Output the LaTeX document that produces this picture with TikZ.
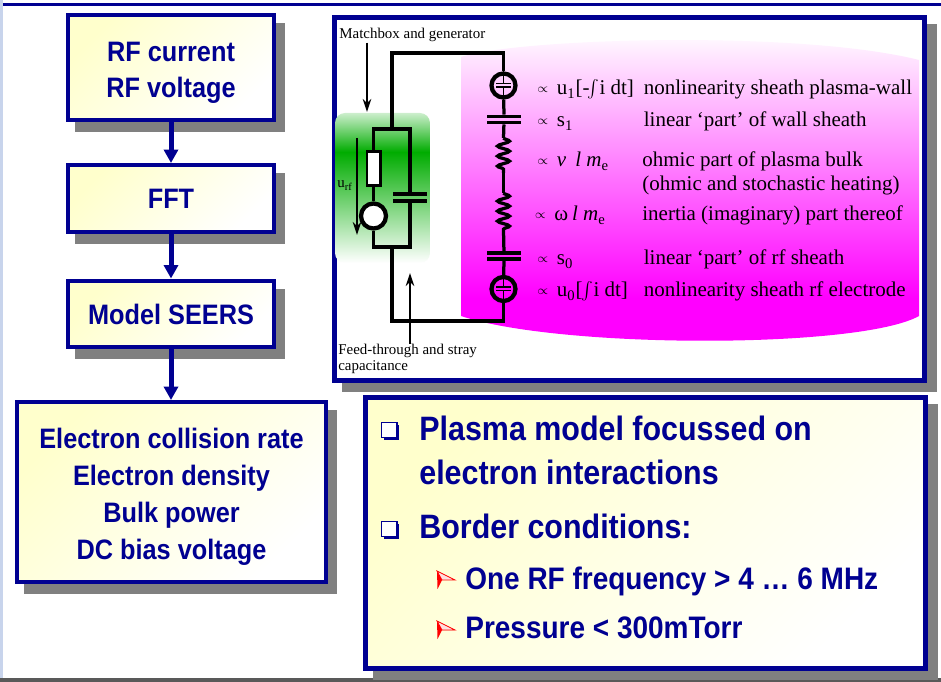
\documentclass[tikz,border=0pt]{standalone}
\usepackage{fontspec}
\setmainfont[FakeStretch=0.9]{Liberation Sans}
\newfontfamily\circuitfont{Liberation Serif}
\usetikzlibrary{arrows.meta, shadows, decorations.pathmorphing}
\definecolor{navyline}  {RGB}{0, 0, 145}
\definecolor{paleyellow}{RGB}{255, 255, 204}
\definecolor{shadowgray}{RGB}{128, 128, 128}
\definecolor{bargray}   {RGB}{89, 89, 89}
\definecolor{stripeblue}{RGB}{200, 212, 236}
\definecolor{plotgreen} {RGB}{0, 172, 0}
\pgfdeclareverticalshading{greenfade}{100bp}{color(0bp)=(white); color(25bp)=(white); color(62bp)=(plotgreen); color(75bp)=(plotgreen!20); color(100bp)=(plotgreen!20)}
\pgfdeclareverticalshading{magentafade}{100bp}{color(0bp)=(magenta); color(33bp)=(magenta); color(75bp)=(white); color(100bp)=(white)}
\newcommand{\propsym}{\raisebox{1.2pt}{\scriptsize$\propto$}\hspace{0.17cm}}
\newcommand{\firstline}{\rule{0pt}{17pt}}
\tikzset{
	flowbox/.style={
		rectangle, align=center, text=navyline,
		font=\fontsize{16}{21}\selectfont\bfseries,
		draw=navyline, line width=0.08cm,
		top color=paleyellow, bottom color=white, shading angle=45,
		drop shadow={shadow xshift=0.18cm, shadow yshift=-0.2cm,
			fill=shadowgray, draw=shadowgray, opacity=1}
	},
	panelbox/.style={
		rectangle, draw=navyline, line width=0.09cm,
		drop shadow={shadow xshift=0.2cm, shadow yshift=-0.18cm,
			fill=shadowgray, draw=shadowgray, opacity=1}
	},
	arrow/.style={
		-{Triangle[length=0.27cm, width=0.28cm]}, line width=0.1cm, color=navyline
	},
	thinarrow/.style={
		-{Stealth[length=0.26cm, width=0.17cm]}, line width=0.03cm, color=black
	},
	wire/.style={line width=0.065cm, color=black, line join=miter},
	coil/.style={wire, decorate,
		decoration={snake, amplitude=0.12cm, segment length=0.2cm}},
	plate/.style={
		rectangle, fill=black, inner sep=0pt,
		minimum width=0.68cm, minimum height=0.065cm
	},
	sheath/.style={
		circle, draw=black, line width=0.085cm, inner sep=0pt, minimum size=0.48cm
	},
	bulletbox/.style={
		rectangle, draw=navyline, fill=white, line width=0.03cm, inner sep=0pt,
		minimum size=0.31cm,
		drop shadow={shadow xshift=0.05cm, shadow yshift=-0.05cm,
			fill=navyline, opacity=1}
	},
	smalllabel/.style={
		inner sep=0pt, font=\circuitfont\fontsize{8.5}{9.2}\selectfont, align=left
	},
	rowtext/.style={
		anchor=base west, inner sep=0pt, font=\circuitfont\fontsize{11.95}{13}\selectfont
	},
	bighead/.style={
		anchor=base west, inner sep=0pt, text=navyline,
		font=\fontsize{19.25}{24}\selectfont\bfseries
	},
	subhead/.style={
		anchor=base west, inner sep=0pt, text=navyline,
		font=\fontsize{17.7}{22}\selectfont\bfseries
	},
	pics/chevron/.style={code={
		\fill[red] (0,0) -- (18,9) -- (5,9) -- (0.5,18) -- cycle;
		\draw[red, line width=0.015cm, fill=red!12] (0,0) -- (18,9) -- (5,9) -- cycle;
	}}
}

\begin{document}
\begin{tikzpicture}[x=0.02cm, y=-0.02cm]
		\useasboundingbox (0,0) rectangle (941,682);
		
		%% ═══════════════════════════════
		%%  SLIDE EDGES
		%% ═══════════════════════════════
		\fill[white] (0,0) rectangle (941,682);
		\fill[stripeblue] (0,0) rectangle (3,682);
		\fill[navyline] (3,3) rectangle (941,6);
		\fill[bargray] (0,678) rectangle (941,682);
		
		%% ═══════════════════════════════
		%%  LEFT COLUMN — Flow
		%% ═══════════════════════════════
		\node[flowbox, minimum width=4.12cm, minimum height=2.1cm] (rfbox) at (171,67.5) {\firstline RF current\\RF voltage};
		\node[flowbox, minimum width=4.12cm, minimum height=1.34cm] (fftbox) at (171,198.5) {FFT};
		\node[flowbox, minimum width=4.12cm, minimum height=1.34cm] (seersbox) at (171,314) {Model SEERS};
		\node[flowbox, minimum width=6.18cm, minimum height=3.6cm] (resultbox) at (171.5,492)
			{\firstline Electron collision rate\\Electron density\\Bulk power\\DC bias voltage};
		
		\draw[arrow] (rfbox) -- (fftbox);
		\draw[arrow] (fftbox) -- (seersbox);
		\draw[arrow] (seersbox) -- (seersbox |- resultbox.north);
		
		%% ═══════════════════════════════
		%%  CIRCUIT PANEL
		%% ═══════════════════════════════
		\node[panelbox, fill=white, minimum width=11.81cm, minimum height=7.27cm] (panel) at (629.5,199) {};
		
		\shade[shading=magentafade]
			(461,57) .. controls (520,38) and (800,30) .. (919,60)
			-- (919,316) .. controls (860,349) and (560,349) .. (461,316) -- cycle;
		\shade[shading=greenfade, rounded corners=0.2cm] (335,113) rectangle (430,263);
		
		% Corners of the loop
		\coordinate (topleft)   at (392,53);
		\coordinate (topright)  at (503.5,53);
		\coordinate (botleft)   at (392,321);
		\coordinate (botright)  at (503.5,321);
		\coordinate (joinup)    at (392,129);
		\coordinate (joindown)  at (392,247);
		\coordinate (parul)     at (373.5,129);
		\coordinate (parur)     at (410,129);
		\coordinate (parll)     at (373.5,247);
		\coordinate (parlr)     at (410,247);
		
		% Series branch
		\node[sheath] (sheathup)  at (503.5,85.5) {};
		\node[plate] (capupa)   at (504,116.5) {};
		\node[plate] (capupb)   at (504,122.5) {};
		\coordinate (coilupin)  at (503.5,138);
		\coordinate (coilupout) at (503.5,173);
		\coordinate (coildnin)  at (503.5,193);
		\coordinate (coildnout) at (503.5,230);
		\node[plate] (capdna)   at (504,253) {};
		\node[plate] (capdnb)   at (504,259) {};
		\node[sheath] (sheathdn)  at (503.5,289) {};
		
		% Parallel branch
		\node[rectangle, draw=black, fill=white, line width=0.05cm, inner sep=0pt,
		minimum width=0.27cm, minimum height=0.68cm] (resistor) at (373.5,168.5) {};
		\node[sheath, fill=white, minimum size=0.5cm] (source) at (373.5,216) {};
		\node[plate] (capstraya) at (410,194) {};
		\node[plate] (capstrayb) at (410,201) {};
		
		% Wires
		\draw[wire] (joinup) -- (topleft) -- (topright) -- (sheathup);
		\draw[wire] (sheathup) -- (capupa);
		\draw[wire] (capupb) -- (coilupin);
		\draw[coil] (coilupin) -- (coilupout);
		\draw[wire] (coilupout) -- (coildnin);
		\draw[coil] (coildnin) -- (coildnout);
		\draw[wire] (coildnout) -- (capdna);
		\draw[wire] (capdnb) -- (sheathdn);
		\draw[wire] (sheathdn) -- (botright) -- (botleft) -- (joindown);
		\draw[wire] (resistor) -- (parul) -- (parur) -- (capstraya);
		\draw[wire] (resistor) -- (source);
		\draw[wire] (source) -- (parll) -- (parlr) -- (capstrayb);
		
		% Inside of the two sheaths
		\foreach \s in {sheathup, sheathdn} {
			\draw[line width=0.03cm] ([xshift=-0.15cm, yshift=0.035cm]\s.center) -- ([xshift=0.15cm, yshift=0.035cm]\s.center);
			\draw[line width=0.03cm] ([xshift=-0.15cm, yshift=-0.035cm]\s.center) -- ([xshift=0.15cm, yshift=-0.035cm]\s.center);
			\draw[line width=0.03cm] (\s.north) -- ([yshift=0.035cm]\s.center);
			\draw[line width=0.03cm] (\s.south) -- ([yshift=-0.035cm]\s.center);
		}
		
		% Circuit labels and arrows
		\node[smalllabel, anchor=base west] (matchlabel) at (339,39) {Matchbox and generator};
		\node[smalllabel, anchor=north west] (feedlabel) at (338,344) {Feed-through and stray\\capacitance};
		\node[smalllabel, anchor=base west] (urflabel) at (337,188) {u\textsubscript{rf}};
		\coordinate (matchtip) at (367,112);
		\coordinate (feedtip)  at (410,273);
		\coordinate (urftop)   at (357,138);
		\coordinate (urftip)   at (357,235);
		\draw[thinarrow] (matchlabel.south -| matchtip) -- (matchtip);
		\draw[thinarrow] (feedlabel.north -| feedtip) -- (feedtip);
		\draw[thinarrow] (urftop) -- (urftip);
		
		%% ═══════════════════════════════
		%%  CIRCUIT TEXT
		%% ═══════════════════════════════
		\node[rowtext] (exprone)   at (537,95)  {\propsym u\textsubscript{1}[-\hspace{-0.04cm}$\int$\hspace{-0.1cm} i dt]};
		\node[rowtext] (exprtwo)   at (537,127) {\propsym s\textsubscript{1}};
		\node[rowtext] (exprthree) at (537,167) {\propsym\textit{v\hspace{0.08cm} l m}\textsubscript{e}};
		\node[rowtext] (exprfour)  at (534.5,221) {\propsym ω\hspace{0.08cm}\textit{l m}\textsubscript{e}};
		\node[rowtext] (exprfive)  at (537,265) {\propsym s\textsubscript{0}};
		\node[rowtext] (exprsix)   at (537,297) {\propsym u\textsubscript{0}[\hspace{-0.02cm}$\int$\hspace{-0.1cm} i dt]};
		
		\node[rowtext] (rowone)    at (643.5,95)  {nonlinearity sheath plasma-wall};
		\node[rowtext] (rowtwo)    at (643.5,127) {linear ‘part’ of wall sheath};
		\node[rowtext] (rowthree)  at (642,167)   {ohmic part of plasma bulk};
		\node[rowtext] (rowthreeb) at (642,191)   {(ohmic and stochastic heating)};
		\node[rowtext] (rowfour)   at (642,220.5) {inertia (imaginary) part thereof};
		\node[rowtext] (rowfive)   at (643.5,265) {linear ‘part’ of rf sheath};
		\node[rowtext] (rowsix)    at (643.5,297) {nonlinearity sheath rf electrode};
		
		%% ═══════════════════════════════
		%%  NOTES BOX
		%% ═══════════════════════════════
		\node[panelbox, top color=paleyellow, bottom color=white, shading angle=45,
		minimum width=11.21cm, minimum height=5.43cm] (notes) at (645.5,533) {};
		
		\node[bulletbox] (bulletone) at (389,430) {};
		\node[bulletbox] (bullettwo) at (389,529) {};
		\node[bighead] (headone)  at (419,441) {Plasma model focussed on};
		\node[bighead] (headoneb) at (419,485) {electron interactions};
		\node[bighead] (headtwo)  at (419,539) {Border conditions:};
		
		\pic at (437,571) {chevron};
		\pic at (437,621) {chevron};
		\node[subhead] (subone) at (465,589) {One RF frequency > 4 … 6 MHz};
		\node[subhead] (subtwo) at (465,639) {Pressure < 300mTorr};
	\end{tikzpicture}
\end{document}
